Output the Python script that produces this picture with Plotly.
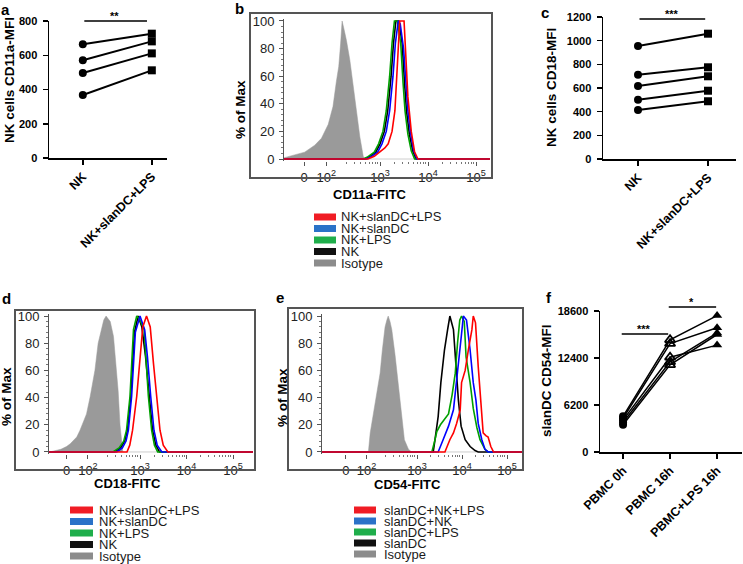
import math
import plotly.graph_objects as go

W, H = 743, 564
FONT = "Liberation Sans, Arial, sans-serif"

# ---------------- data ----------------
# panel a
a_groups = ["NK", "NK+slanDC+LPS"]
a_nk = [664, 571, 496, 368]
a_nk_slandc_lps = [726, 681, 611, 512]
a_yticks = [0, 200, 400, 600, 800]

# panel c
c_groups = ["NK", "NK+slanDC+LPS"]
c_nk = [955, 712, 617, 501, 414]
c_nk_slandc_lps = [1059, 775, 699, 577, 488]
c_yticks = [0, 200, 400, 600, 800, 1000, 1200]

# panel f
f_groups = ["PBMC 0h", "PBMC 16h", "PBMC+LPS 16h"]
f_pbmc_0h = [4700, 4450, 4200, 3900, 3600]
f_pbmc_16h = [14800, 14300, 12500, 11900, 11500]
f_pbmc_lps_16h = [18000, 16400, 14100, 15700, 15500]
f_yticks = [0, 6200, 12400, 18600]

# histogram axis (biexponential display positions)
hist_tick_text = ["0", "10<sup>2</sup>", "10<sup>3</sup>", "10<sup>4</sup>", "10<sup>5</sup>"]
hist_tick_pos = [1.42, 1.88, 3, 4, 5]
hist_yticks = [0, 20, 40, 60, 80, 100]

# panel b: CD11a-FITC
b_iso_pos = [0.85, 1.01, 1.22, 1.43, 1.64, 1.78, 1.92, 2.02, 2.09, 2.14, 2.18, 2.21, 2.25, 2.30, 2.37, 2.46, 2.53, 2.58, 2.65, 2.68, 5.5]
b_iso_pct = [0, 1, 3, 5, 10, 15, 25, 38, 56, 67, 84, 100, 94, 86, 72, 48, 31, 16, 2, 0, 0]
b_nk_pos = [0.85, 2.68, 2.78, 2.91, 3.0, 3.09, 3.16, 3.23, 3.28, 3.33, 3.39, 3.46, 3.51, 3.55, 3.61, 3.68, 3.75, 5.5]
b_nk_pct = [0, 0, 1.7, 5, 11, 20, 35, 60, 84, 100, 100, 84, 55, 35, 18, 6, 0, 0]
b_nklps_pos = [0.85, 2.65, 2.75, 2.88, 2.97, 3.06, 3.13, 3.20, 3.25, 3.30, 3.36, 3.43, 3.48, 3.52, 3.58, 3.65, 3.72, 5.5]
b_nklps_pct = [0, 0, 1.7, 5, 11, 20, 35, 60, 84, 100, 100, 84, 55, 35, 18, 6, 0, 0]
b_nkdc_pos = [0.85, 2.72, 2.82, 2.95, 3.04, 3.13, 3.20, 3.27, 3.32, 3.38, 3.42, 3.49, 3.54, 3.58, 3.64, 3.70, 3.77, 5.5]
b_nkdc_pct = [0, 0, 1.7, 5, 11, 20, 35, 60, 84, 100, 98, 80, 55, 35, 18, 6, 0, 0]
b_nkdclps_pos = [0.85, 2.75, 2.88, 2.99, 3.1, 3.17, 3.25, 3.31, 3.375, 3.41, 3.5, 3.54, 3.58, 3.65, 3.72, 3.79, 5.5]
b_nkdclps_pct = [0, 0, 2, 5, 8, 11, 20, 35, 72, 100, 100, 75, 45, 20, 5, 0, 0]

# panel d: CD18-FITC
d_iso_pos = [0.85, 1.06, 1.3, 1.42, 1.5, 1.64, 1.71, 1.85, 1.93, 2.03, 2.10, 2.22, 2.27, 2.36, 2.43, 2.48, 2.53, 2.57, 2.61, 2.63, 5.5]
d_iso_pct = [0, 0, 2, 4, 6, 11, 16, 28, 41, 60, 80, 97, 100, 96, 85, 65, 45, 20, 5, 0, 0]
d_nk_pos = [0.85, 2.45, 2.58, 2.67, 2.73, 2.80, 2.88, 2.96, 3.04, 3.12, 3.2, 3.27, 3.34, 3.42, 5.5]
d_nk_pct = [0, 0, 3, 8, 16, 41, 88, 100, 92, 70, 41, 16, 5, 0, 0]
d_nklps_pos = [0.85, 2.42, 2.55, 2.65, 2.71, 2.785, 2.86, 2.93, 3.0, 3.09, 3.18, 3.25, 3.31, 3.38, 5.5]
d_nklps_pct = [0, 0, 3, 8, 16, 41, 90, 100, 97, 90, 41, 16, 5, 0, 0]
d_nkdc_pos = [0.85, 2.5, 2.62, 2.7, 2.75, 2.82, 2.9, 3.0, 3.1, 3.16, 3.23, 3.30, 3.37, 3.47, 5.5]
d_nkdc_pct = [0, 0, 3, 8, 16, 41, 88, 100, 90, 70, 41, 16, 5, 0, 0]
d_nkdclps_pos = [0.85, 2.72, 2.78, 2.84, 2.93, 3.0, 3.06, 3.14, 3.22, 3.29, 3.36, 3.43, 3.5, 3.6, 5.5]
d_nkdclps_pct = [0, 0, 5, 16, 41, 72, 92, 100, 92, 65, 41, 16, 5, 0, 0]

# panel e: CD54-FITC
e_iso_pos = [0.85, 1.92, 1.96, 2.04, 2.11, 2.18, 2.23, 2.29, 2.33, 2.36, 2.40, 2.44, 2.51, 2.585, 2.66, 2.72, 2.81, 2.88, 5.5]
e_iso_pct = [0, 0, 14, 31, 43, 58, 75, 92, 97, 100, 96, 90, 72, 48, 23, 9, 2, 0, 0]
e_dc_pos = [0.85, 3.36, 3.4, 3.47, 3.53, 3.61, 3.68, 3.73, 3.81, 3.86, 3.92, 3.98, 4.07, 4.18, 4.29, 4.36, 5.5]
e_dc_pct = [0, 0, 9, 26, 51, 75, 90, 100, 90, 63, 38, 19, 9, 4, 1, 0, 0]
e_dclps_pos = [0.85, 3.33, 3.40, 3.44, 3.52, 3.61, 3.70, 3.78, 3.85, 3.90, 3.95, 3.99, 4.05, 4.09, 4.13, 4.18, 4.25, 4.33, 4.40, 4.51, 4.58, 5.5]
e_dclps_pct = [0, 0, 9, 15, 20, 24, 28, 42, 58, 80, 97, 100, 96, 70, 62, 51, 32, 18, 9, 2, 0, 0]
e_dcnk_pos = [0.85, 3.47, 3.58, 3.70, 3.81, 3.88, 3.93, 3.99, 4.03, 4.10, 4.18, 4.25, 4.31, 4.36, 4.44, 4.51, 4.58, 5.5]
e_dcnk_pct = [0, 0, 9, 19, 31, 51, 68, 87, 100, 97, 75, 51, 38, 21, 9, 2, 0, 0]
e_dcnklps_pos = [0.85, 3.62, 3.73, 3.81, 3.88, 3.96, 3.99, 4.07, 4.14, 4.22, 4.25, 4.30, 4.36, 4.42, 4.47, 4.53, 4.58, 4.64, 4.70, 5.5]
e_dcnklps_pct = [0, 0, 9, 14, 21, 31, 51, 60, 75, 90, 100, 95, 63, 38, 14, 12, 11, 4, 0, 0]

b_legend = ["NK+slanDC+LPS", "NK+slanDC", "NK+LPS", "NK", "Isotype"]
d_legend = ["NK+slanDC+LPS", "NK+slanDC", "NK+LPS", "NK", "Isotype"]
e_legend = ["slanDC+NK+LPS", "slanDC+NK", "slanDC+LPS", "slanDC", "Isotype"]
legend_colors = ["#f01c24", "#2a72c8", "#1fae4b", "#111111", "#8c8c8c"]

curve_colors = {"red": "#ff0000", "blue": "#0000ff", "green": "#00a000", "black": "#000000", "iso": "#9a9a9a"}

# ---------------- helpers ----------------
def dx(l, r):
    return [l / W, r / W]

def dy(top, bottom):
    return [1 - bottom / H, 1 - top / H]

fig = go.Figure()
layout = dict(
    template="none",
    width=W, height=H, margin=dict(l=0, r=0, t=0, b=0, autoexpand=False),
    paper_bgcolor="white", plot_bgcolor="rgba(0,0,0,0)",
    showlegend=False, hovermode=False, font=dict(family=FONT, color="black"),
)
annotations = []
shapes = []

bold_tick = dict(family=FONT, size=11, color="black", weight="bold")
bold_xtick = dict(family=FONT, size=12.5, color="black", weight="bold")

def dot_axes(n, xdom, ydom, xrange, yrange, groups, yticks):
    xa = dict(domain=xdom, range=xrange, anchor="y%d" % n if n > 1 else "y", automargin=False,
              tickmode="array", tickvals=list(range(len(groups))), ticktext=groups,
              tickangle=-45, ticks="outside", ticklen=5, tickwidth=1.5, tickcolor="black",
              showline=True, linewidth=1.5, linecolor="black", showgrid=False, zeroline=False,
              tickfont=bold_xtick)
    ya = dict(domain=ydom, range=yrange, anchor="x%d" % n if n > 1 else "x", automargin=False,
              tickmode="array", tickvals=yticks, ticktext=[str(t) for t in yticks],
              ticks="outside", ticklen=5, tickwidth=1.5,
              tickcolor="black", showline=True, linewidth=1.5, linecolor="black",
              showgrid=False, zeroline=False, tickfont=bold_tick, ticklabelstandoff=3)
    layout["xaxis" if n == 1 else "xaxis%d" % n] = xa
    layout["yaxis" if n == 1 else "yaxis%d" % n] = ya

def hist_axes(n, xdom, ydom, xrange):
    minor_x = []
    for dec in (2, 3, 4):
        for k in range(2, 10):
            minor_x.append(dec + math.log10(k))
    xa = dict(domain=xdom, range=xrange, anchor="y%d" % n, automargin=False,
              tickmode="array", tickvals=hist_tick_pos, ticktext=hist_tick_text,
              ticks="outside", ticklen=4, tickwidth=1, tickcolor="#555",
              minor=dict(tickmode="array", tickvals=minor_x, ticks="outside", ticklen=2, tickcolor="#777"),
              showline=False, showgrid=False, zeroline=False,
              tickfont=dict(family=FONT, size=13, color="#222"))
    ya = dict(domain=ydom, range=[-1.5, 101.5], anchor="x%d" % n, automargin=False,
              tickmode="array", tickvals=hist_yticks, ticks="outside", ticklen=4, tickwidth=1,
              tickcolor="#555", minor=dict(dtick=4, ticks="outside", ticklen=2, tickcolor="#777"),
              showline=True, linewidth=1, linecolor="#555", showgrid=False, zeroline=False,
              tickfont=dict(family=FONT, size=13, color="#222"), ticklabelstandoff=2)
    layout["xaxis%d" % n] = xa
    layout["yaxis%d" % n] = ya

def text(x, y, s, size=13.5, bold=True, angle=0, xanchor="center", yanchor="middle", color="black"):
    annotations.append(dict(x=x / W, y=1 - y / H, xref="paper", yref="paper", text=s,
                            showarrow=False, textangle=angle, xanchor=xanchor, yanchor=yanchor,
                            font=dict(family=FONT, size=size, color=color,
                                      weight="bold" if bold else "normal")))

def sig_bar(n, x0, x1, y, stars, yshift=0, star_shift=-3):
    xr = "x" if n == 1 else "x%d" % n
    yr = "y" if n == 1 else "y%d" % n
    annotations.append(dict(x=x1, y=y, ax=x0, ay=y, xref=xr, yref=yr, axref=xr, ayref=yr,
                            text="", showarrow=True, arrowhead=0, arrowwidth=1.5,
                            arrowcolor="black", standoff=0, startstandoff=0, yshift=yshift))
    annotations.append(dict(x=(x0 + x1) / 2, y=y, xref=xr, yref=yr, text=stars, showarrow=False,
                            yanchor="bottom", yshift=yshift + star_shift,
                            font=dict(family=FONT, size=11, color="black", weight="bold")))

def legend(entries, x0, x1, xt, y0, step):
    for i, (lab, col) in enumerate(zip(entries, legend_colors)):
        yc = y0 + i * step
        shapes.append(dict(type="rect", xref="paper", yref="paper",
                           x0=x0 / W, x1=x1 / W, y0=1 - (yc + 3.5) / H, y1=1 - (yc - 3.5) / H,
                           fillcolor=col, line=dict(width=0)))
        text(xt, yc, lab, size=13, bold=False, xanchor="left", color="#1a1a1a")

def frame(l, t, r, b):
    shapes.append(dict(type="rect", xref="paper", yref="paper", x0=l / W, x1=r / W,
                       y0=1 - b / H, y1=1 - t / H, line=dict(color="#555", width=2),
                       fillcolor="rgba(0,0,0,0)"))

# ---------------- panel a (axes 1) ----------------
dot_axes(1, dx(49, 167), dy(21, 158), [-0.49, 1.22], [0, 800], a_groups, a_yticks)
for v0, v1 in zip(a_nk, a_nk_slandc_lps):
    fig.add_trace(go.Scatter(x=[0, 1], y=[v0, v1], mode="lines", line=dict(color="black", width=2),
                             xaxis="x", yaxis="y", hoverinfo="skip", cliponaxis=False))
fig.add_trace(go.Scatter(x=[0] * len(a_nk), y=a_nk, mode="markers", xaxis="x", yaxis="y",
                         marker=dict(symbol="circle", size=8, color="black"), cliponaxis=False))
fig.add_trace(go.Scatter(x=[1] * len(a_nk_slandc_lps), y=a_nk_slandc_lps, mode="markers", xaxis="x", yaxis="y",
                         marker=dict(symbol="square", size=8, color="black"), cliponaxis=False))
sig_bar(1, 0, 0.93, 800, "**", yshift=0)

# ---------------- panel c (axes 3) ----------------
dot_axes(3, dx(603, 736), dy(17, 159), [-0.5, 1.4], [0, 1200], c_groups, c_yticks)
for v0, v1 in zip(c_nk, c_nk_slandc_lps):
    fig.add_trace(go.Scatter(x=[0, 1], y=[v0, v1], mode="lines", line=dict(color="black", width=2),
                             xaxis="x3", yaxis="y3", hoverinfo="skip", cliponaxis=False))
fig.add_trace(go.Scatter(x=[0] * len(c_nk), y=c_nk, mode="markers", xaxis="x3", yaxis="y3",
                         marker=dict(symbol="circle", size=8, color="black"), cliponaxis=False))
fig.add_trace(go.Scatter(x=[1] * len(c_nk_slandc_lps), y=c_nk_slandc_lps, mode="markers", xaxis="x3", yaxis="y3",
                         marker=dict(symbol="square", size=8, color="black"), cliponaxis=False))
sig_bar(3, 0, 0.96, 1200, "***", yshift=-2)

# ---------------- panel f (axes 6) ----------------
dot_axes(6, dx(600, 742), dy(311, 452), [-0.49, 2.53], [0, 18600], f_groups, f_yticks)
for v0, v1, v2 in zip(f_pbmc_0h, f_pbmc_16h, f_pbmc_lps_16h):
    fig.add_trace(go.Scatter(x=[0, 1, 2], y=[v0, v1, v2], mode="lines", line=dict(color="black", width=1.5),
                             xaxis="x6", yaxis="y6", hoverinfo="skip", cliponaxis=False))
fig.add_trace(go.Scatter(x=[0] * 5, y=f_pbmc_0h, mode="markers", xaxis="x6", yaxis="y6",
                         marker=dict(symbol="circle", size=8, color="black"), cliponaxis=False))
fig.add_trace(go.Scatter(x=[1] * 5, y=f_pbmc_16h, mode="markers", xaxis="x6", yaxis="y6",
                         marker=dict(symbol="triangle-up-open", size=9, color="black", line=dict(width=1.8)),
                         cliponaxis=False))
fig.add_trace(go.Scatter(x=[2] * 5, y=f_pbmc_lps_16h, mode="markers", xaxis="x6", yaxis="y6",
                         marker=dict(symbol="triangle-up", size=9, color="black"), cliponaxis=False))
sig_bar(6, -0.06, 0.96, 15560, "***")
sig_bar(6, 0.94, 1.98, 18600, "*", yshift=4)

# ---------------- histograms ----------------
def add_hist(n, curves):
    xr, yr = "x%d" % n, "y%d" % n
    iso_pos, iso_pct = curves[0]
    fig.add_trace(go.Scatter(x=iso_pos, y=iso_pct, mode="lines", fill="tozeroy",
                             fillcolor=curve_colors["iso"], line=dict(color=curve_colors["iso"], width=0.5),
                             xaxis=xr, yaxis=yr, hoverinfo="skip"))
    for (pos, pct), col in zip(curves[1:], ["black", "green", "blue", "red"]):
        fig.add_trace(go.Scatter(x=pos, y=pct, mode="lines", line=dict(color=curve_colors[col], width=1.6),
                                 xaxis=xr, yaxis=yr, hoverinfo="skip"))

# b (axes 2)
hist_axes(2, dx(284, 490), dy(18.9, 161.1), [1.0, 5.29])
add_hist(2, [(b_iso_pos, b_iso_pct), (b_nk_pos, b_nk_pct), (b_nklps_pos, b_nklps_pct),
             (b_nkdc_pos, b_nkdc_pct), (b_nkdclps_pos, b_nkdclps_pct)])
frame(250, 13, 492, 178)

# d (axes 4)
hist_axes(4, dx(49, 253), dy(314, 454), [1.043, 5.43])
add_hist(4, [(d_iso_pos, d_iso_pct), (d_nk_pos, d_nk_pct), (d_nklps_pos, d_nklps_pct),
             (d_nkdc_pos, d_nkdc_pct), (d_nkdclps_pos, d_nkdclps_pct)])
frame(15, 310, 255, 470)

# e (axes 5)
hist_axes(5, dx(322, 522), dy(314, 454), [0.889, 5.333])
add_hist(5, [(e_iso_pos, e_iso_pct), (e_dc_pos, e_dc_pct), (e_dclps_pos, e_dclps_pct),
             (e_dcnk_pos, e_dcnk_pct), (e_dcnklps_pos, e_dcnklps_pct)])
frame(288, 308, 523, 470)

# ---------------- titles, labels, legends ----------------
text(10, 80, "NK cells CD11a-MFI", angle=-90)
text(551, 88, "NK cells CD18-MFI", angle=-90)
text(547, 381, "slanDC CD54-MFI", angle=-90)
text(240, 109, "% of Max", angle=-90)
text(6, 397, "% of Max", angle=-90)
text(282, 398, "% of Max", angle=-90)
text(370, 194, "CD11a-FITC", size=13)
text(127, 483, "CD18-FITC", size=13)
text(407, 484, "CD54-FITC", size=13)

for lab, x, y in [("a", 5, 10), ("b", 240, 8), ("c", 545, 12), ("d", 6, 298), ("e", 280, 297), ("f", 549, 297)]:
    text(x, y, lab, size=15)

legend(b_legend, 314, 336, 339, 217, 11.5)
legend(d_legend, 70, 93, 97, 510, 11.5)
legend(e_legend, 354, 376, 382, 510, 11)

layout["annotations"] = annotations
layout["shapes"] = shapes
fig.update_layout(**layout)
fig.write_html("out.html", config={"displayModeBar": False, "staticPlot": True},
               post_script="document.body.style.margin='0px';")
